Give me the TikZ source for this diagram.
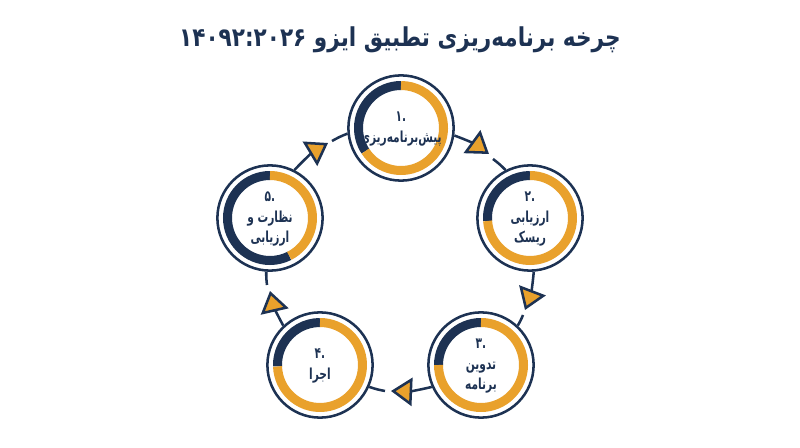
\documentclass[tikz,border=0pt]{standalone}
\usepackage{fontspec}
\usepackage{graphicx}
\usepackage{tikz}
\usetikzlibrary{arrows.meta, positioning, backgrounds}
\TeXXeTstate=1
\newfontfamily\fa[Script=Arabic]{DejaVu Sans}
\definecolor{cyclenavy}{HTML}{1D3253}
\definecolor{cycleorange}{HTML}{E9A12C}
\newcommand{\rtl}[1]{\beginR #1\endR}
\newcommand{\stepno}[1]{\hbox{#1}\hbox{.}}
\newcommand{\stagetext}[1]{\scalebox{0.7}[1]{\begin{tabular}{@{}c@{}}#1\end{tabular}}}

\begin{document}
\begin{tikzpicture}[
  x=0.025cm, y=0.025cm,
  stage/.style={
    circle,
    draw=cyclenavy,
    line width=1.8pt,
    minimum size=2.63cm,
    inner sep=0pt,
    align=center,
    text=cyclenavy,
    font=\fa\bfseries\fontsize{10.8}{14.5}\selectfont
  },
  heading/.style={text=cyclenavy, font=\fa\bfseries\fontsize{18.5}{22}\selectfont},
  navyring/.style={cyclenavy, line width=6.4pt},
  orangering/.style={cycleorange, line width=6.4pt},
  link/.style={cyclenavy, line width=1.8pt,
    -{Triangle[length=15pt, width=20pt, fill=cycleorange]}},
  linkrest/.style={cyclenavy, line width=1.8pt}
]
  \useasboundingbox (0,0) rectangle (800,447);

  \node[heading] (title) at (400,407) {\scalebox{0.83}[1]{\rtl{چرخه برنامه^^^^200cریزی تطبیق ایزو \beginL ۱۴۰۹۲:۲۰۲۶\endL}}};

  \node[stage] (plan) at (401,319) {\stagetext{\stepno{۱}\\\rtl{پیش^^^^200cبرنامه^^^^200cریزی}}};
  \node[stage] (risk) at (530,229) {\stagetext{\stepno{۲}\\\rtl{ارزیابی}\\\rtl{ریسک}}};
  \node[stage] (draft) at (481,82) {\stagetext{\stepno{۳}\\\rtl{تدوین}\\\rtl{برنامه}}};
  \node[stage] (run) at (320,82) {\stagetext{\stepno{۴}\\\rtl{اجرا}}};
  \node[stage] (review) at (270,229) {\stagetext{\stepno{۵}\\\rtl{نظارت و}\\\rtl{ارزیابی}}};

  \begin{scope}[on background layer]
    \draw[navyring] (plan.center) ++(90:42.5) arc[start angle=90, end angle=213, radius=42.5];
    \draw[orangering] (plan.center) ++(213:42.5) arc[start angle=213, end angle=450, radius=42.5];
    \draw[navyring] (risk.center) ++(90:42.5) arc[start angle=90, end angle=184, radius=42.5];
    \draw[orangering] (risk.center) ++(184:42.5) arc[start angle=184, end angle=450, radius=42.5];
    \draw[navyring] (draft.center) ++(90:42.5) arc[start angle=90, end angle=180, radius=42.5];
    \draw[orangering] (draft.center) ++(180:42.5) arc[start angle=180, end angle=450, radius=42.5];
    \draw[navyring] (run.center) ++(90:42.5) arc[start angle=90, end angle=182, radius=42.5];
    \draw[orangering] (run.center) ++(182:42.5) arc[start angle=182, end angle=450, radius=42.5];
    \draw[navyring] (review.center) ++(90:42.5) arc[start angle=90, end angle=297, radius=42.5];
    \draw[orangering] (review.center) ++(297:42.5) arc[start angle=297, end angle=450, radius=42.5];
  \end{scope}

  \coordinate (tip12) at (489,293);
  \coordinate (rest12) at (493,288);
  \coordinate (tip23) at (525,137);
  \coordinate (rest23) at (523,132);
  \coordinate (tip34) at (391,56);
  \coordinate (rest34) at (385,56);
  \coordinate (tip45) at (270,156);
  \coordinate (rest45) at (267,162);
  \coordinate (tip51) at (328,304);
  \coordinate (rest51) at (332,306);

  \draw[link] (plan.-8) to[bend left=8] (tip12);
  \draw[linkrest] (rest12) to[bend left=4] (risk.117);
  \draw[link] (risk.-86) to[bend left=8] (tip23);
  \draw[linkrest] (rest23) to[bend left=4] (draft.47);
  \draw[link] (draft.204) to[bend left=8] (tip34);
  \draw[linkrest] (rest34) to[bend left=4] (run.-24);
  \draw[link] (run.133) to[bend left=8] (tip45);
  \draw[linkrest] (rest45) to[bend left=4] (review.-94);
  \draw[link] (review.63) to[bend left=8] (tip51);
  \draw[linkrest] (rest51) to[bend left=4] (plan.186);
\end{tikzpicture}
\end{document}
